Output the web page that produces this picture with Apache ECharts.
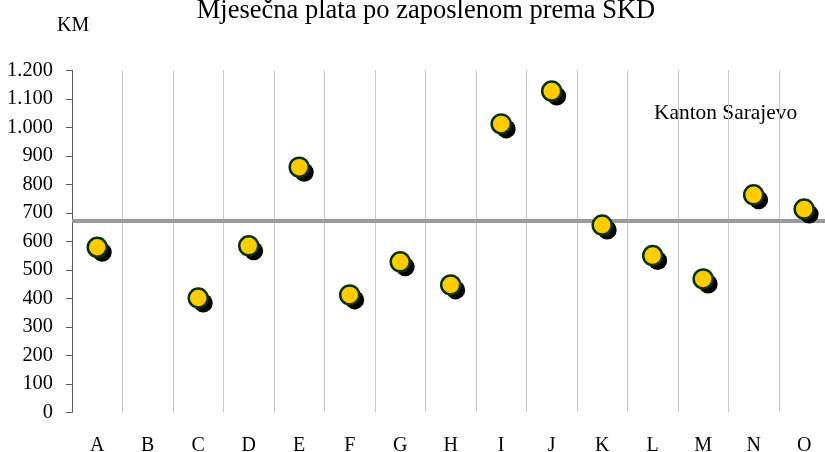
<!DOCTYPE html>
<html>
<head>
<meta charset="utf-8">
<script src="https://cdn.jsdelivr.net/npm/echarts@6/dist/echarts.min.js"></script>
<style>html,body{margin:0;padding:0;background:#fff}#c{width:825px;height:452px}</style>
</head>
<body>
<div id="c"></div>
<script>
const categories = ['A','B','C','D','E','F','G','H','I','J','K','L','M','N','O'];
const plata = [579, null, 401, 584, 860, 412, 528, 447, 1012, 1127, 657, 550, 468, 763, 713];
const kantonSarajevo = 672;
const yTicks = {min: 0, max: 1200, interval: 100};

const font = '"Liberation Serif", "Times New Roman", serif';
const chart = echarts.init(document.getElementById('c'), null, {renderer: 'canvas'});
const fmt = v => v >= 1000 ? String(v).replace(/(\d)(\d{3})$/, '$1.$2') : String(v);

chart.setOption({
  animation: false,
  backgroundColor: '#fff',
  textStyle: {fontFamily: font},
  grid: {left: 72, top: 70.3, width: 757.4, height: 342, containLabel: false, outerBoundsMode: 'none'},
  xAxis: {
    type: 'category',
    data: categories,
    boundaryGap: true,
    axisLine: {show: false},
    axisTick: {show: false},
    axisLabel: {color: '#000', fontFamily: font, fontSize: 20, margin: 23},
    splitLine: {show: true, lineStyle: {color: '#c8c8c8', width: 1}}
  },
  yAxis: {
    type: 'value',
    min: yTicks.min, max: yTicks.max, interval: yTicks.interval,
    axisLine: {show: true, lineStyle: {color: '#595959', width: 1}},
    axisTick: {show: true, inside: false, length: 6, lineStyle: {color: '#595959'}},
    axisLabel: {color: '#000', fontFamily: font, fontSize: 20.4, margin: 19, formatter: fmt},
    splitLine: {show: false}
  },
  graphic: [
    {type: 'text', x: 426, y: -2, style: {text: 'Mjesečna plata po zaposlenom prema SKD', font: '26.5px ' + font, fill: '#000', textAlign: 'center'}},
    {type: 'text', x: 57, y: 26, style: {text: 'KM', font: '20px ' + font, fill: '#000', textVerticalAlign: 'middle'}},
    {type: 'text', x: 654, y: 113, style: {text: 'Kanton Sarajevo', font: '21.4px ' + font, fill: '#000', textVerticalAlign: 'middle'}}
  ],
  series: [
    {
      type: 'scatter', data: plata, z: 2,
      symbol: 'circle', symbolSize: 19, symbolOffset: [5, 5],
      itemStyle: {color: '#000', opacity: 1}, silent: true,
      emphasis: {disabled: true},
      markLine: {
        silent: true, symbol: 'none', z: 1,
        label: {show: false},
        lineStyle: {color: '#9a9a9a', width: 4, type: 'solid'},
        data: [{yAxis: kantonSarajevo}]
      }
    },
    {
      type: 'scatter', data: plata, z: 3,
      symbol: 'circle', symbolSize: 19,
      emphasis: {disabled: true},
      itemStyle: {color: '#FFCC00', borderColor: '#0b3300', borderWidth: 2.5, opacity: 1}
    }
  ]
});
</script>
</body>
</html>
